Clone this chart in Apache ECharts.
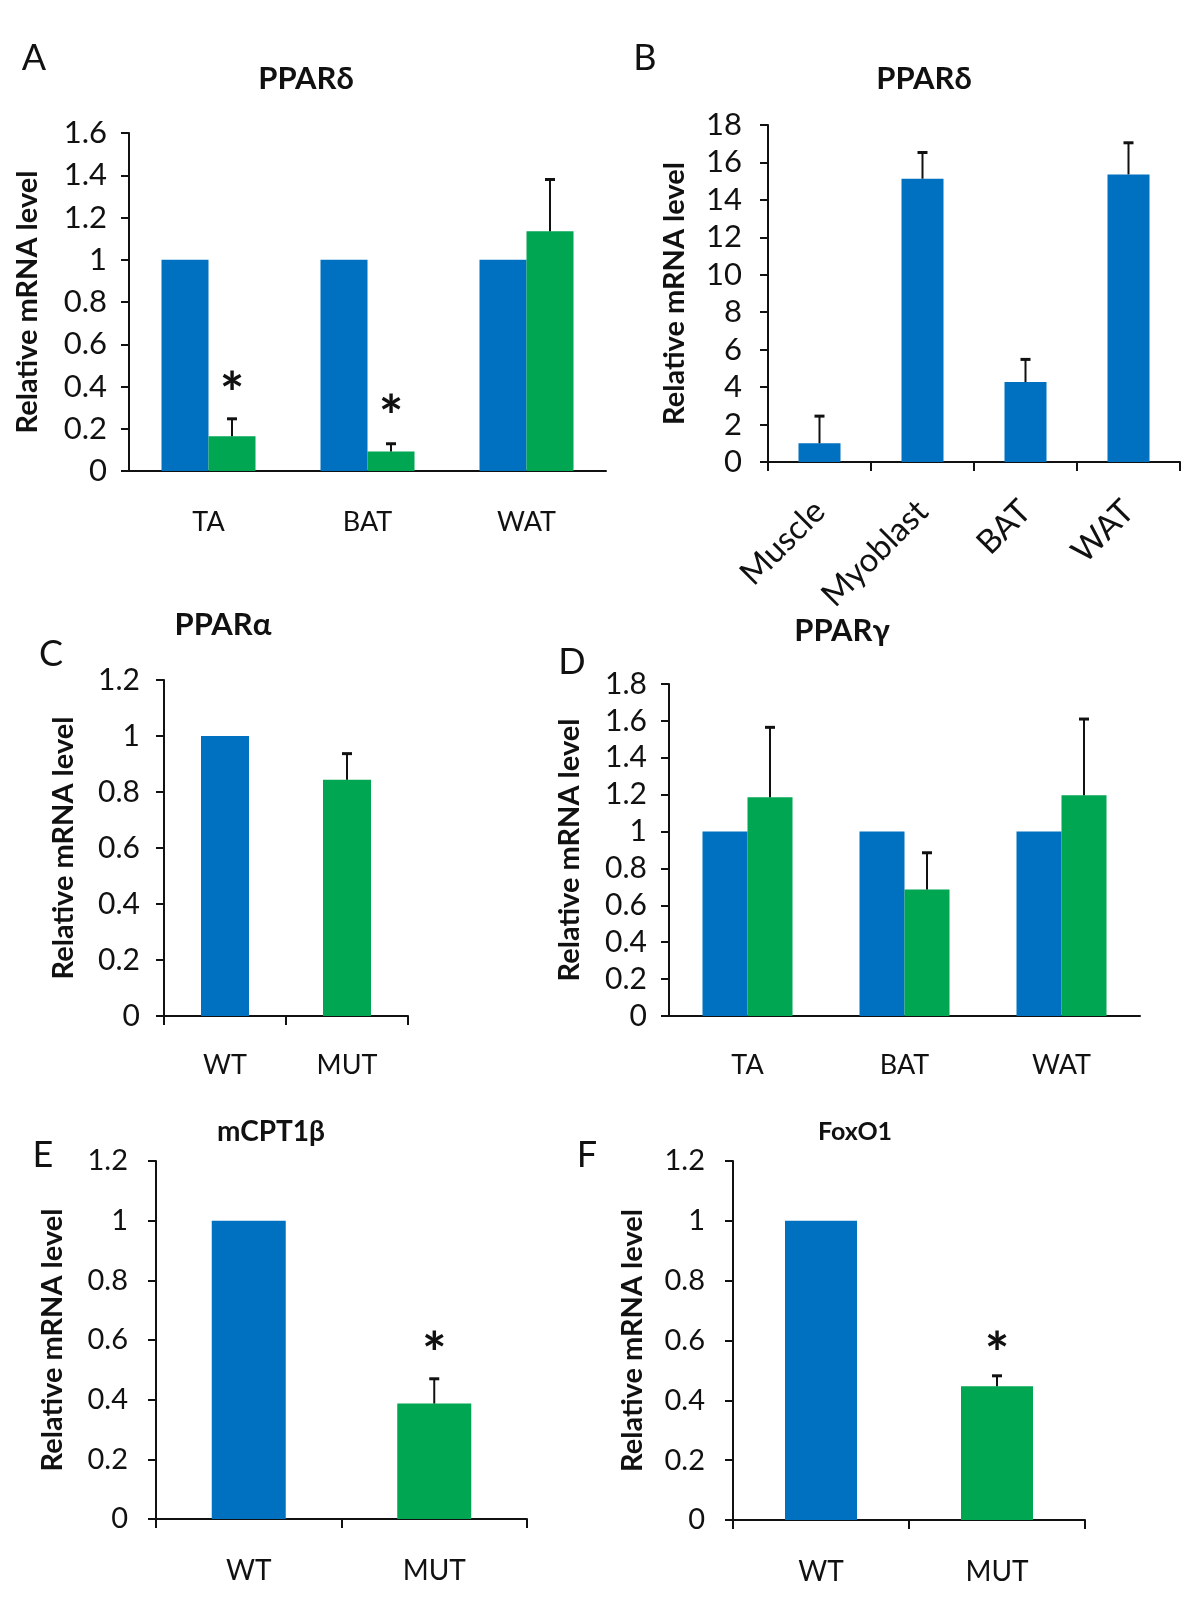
<!DOCTYPE html>
<html><head><meta charset="utf-8">
<script src="https://cdn.jsdelivr.net/npm/echarts@6/dist/echarts.min.js"></script>
<style>html,body{margin:0;padding:0;background:#fff}#c{width:1200px;height:1610px}</style>
</head><body><div id="c"></div>
<script>
// ---- Panel A: PPARδ (WT vs MUT by tissue)
const aCats = ['TA', 'BAT', 'WAT'];
const aWT = [1, 1, 1];
const aMUT = [0.165, 0.092, 1.135];
const aMUTsd = [0.082, 0.037, 0.245];
const aStar = [0.43, 0.32, null];
// ---- Panel B: PPARδ across tissues
const bCats = ['Muscle', 'Myoblast', 'BAT', 'WAT'];
const bVals = [1.0, 15.13, 4.27, 15.36];
const bSD = [1.45, 1.4, 1.21, 1.69];
// ---- Panel C: PPARα
const cCats = ['WT', 'MUT'];
const cVals = [1, 0.844];
const cSD = [0, 0.093];
// ---- Panel D: PPARγ
const dCats = ['TA', 'BAT', 'WAT'];
const dWT = [1, 1, 1];
const dMUT = [1.186, 0.686, 1.197];
const dMUTsd = [0.379, 0.199, 0.413];
// ---- Panel E: mCPT1β
const eCats = ['WT', 'MUT'];
const eVals = [1, 0.387];
const eSD = [0, 0.083];
const eStar = [null, 0.6];
// ---- Panel F: FoxO1
const fCats = ['WT', 'MUT'];
const fVals = [1, 0.447];
const fSD = [0, 0.035];
const fStar = [null, 0.6];
// ---- axis ranges
const yRanges = [
  {max: 1.6, interval: 0.2},
  {max: 18, interval: 2},
  {max: 1.2, interval: 0.2},
  {max: 1.8, interval: 0.2},
  {max: 1.2, interval: 0.2},
  {max: 1.2, interval: 0.2}
];
const titles = ['PPARδ', 'PPARδ', 'PPARα', 'PPARγ', 'mCPT1β', 'FoxO1'];
const letters = ['A', 'B', 'C', 'D', 'E', 'F'];
const yName = 'Relative mRNA level';

const BLUE = '#0070C0', GREEN = '#00A651', INK = '#111111', FONT = 'Lato';

const grids = [
  {left: 129, top: 133, width: 477, height: 338},
  {left: 768, top: 125, width: 412, height: 337},
  {left: 164, top: 680, width: 244, height: 336},
  {left: 669, top: 684, width: 471, height: 332},
  {left: 156, top: 1161, width: 371, height: 358},
  {left: 733, top: 1161, width: 352, height: 359}
];
const cats = [aCats, bCats, cCats, dCats, eCats, fCats];
const nameGaps = [87, 79, 86, 85, 89, 86];
const yLabelMargin = [22, 26, 24, 22, 28, 28];
const yFont = [31, 31, 30, 30, 29, 29];
const xTicks = [false, true, true, false, true, true];
const xMargin = [38, 44, 36, 36, 38, 38];
const xFont = [27, 33, 27, 27, 28, 28];

const xAxis = cats.map((c, i) => ({
  type: 'category', gridIndex: i, data: c,
  axisLine: {lineStyle: {color: INK, width: 2}},
  axisTick: {show: xTicks[i], length: 9, lineStyle: {color: INK, width: 2}},
  axisLabel: {color: INK, fontFamily: FONT, fontSize: xFont[i], margin: xMargin[i],
    rotate: i === 1 ? 45 : 0, interval: 0},
  splitLine: {show: false}
}));
const yAxis = yRanges.map((r, i) => ({
  type: 'value', gridIndex: i, min: 0, max: r.max, interval: r.interval,
  name: yName, nameLocation: 'middle', nameGap: nameGaps[i],
  nameTextStyle: {fontFamily: FONT, fontWeight: 'bold', fontSize: 29, color: INK},
  axisLine: {show: true, lineStyle: {color: INK, width: 2}},
  axisTick: {show: true, length: 8, lineStyle: {color: INK, width: 2}},
  axisLabel: {color: INK, fontFamily: FONT, fontSize: yFont[i], margin: yLabelMargin[i]},
  splitLine: {show: false}
}));

function errSeries(gi, means, sds, off) {
  return {
    type: 'custom', xAxisIndex: gi, yAxisIndex: gi, z: 5, silent: true,
    data: means.map((m, i) => [i, m, sds[i]]),
    renderItem: function (params, api) {
      const cat = api.value(0), m = api.value(1), sd = api.value(2);
      if (!sd) return null;
      const p0 = api.coord([cat, m]);
      const p1 = api.coord([cat, m + sd]);
      const x = p0[0] + off;
      return {type: 'group', children: [
        {type: 'line', shape: {x1: x, y1: p0[1], x2: x, y2: p1[1]}, style: {stroke: INK, lineWidth: 2}},
        {type: 'line', shape: {x1: x - 5, y1: p1[1], x2: x + 5, y2: p1[1]}, style: {stroke: INK, lineWidth: 3}}
      ]};
    }
  };
}
const STAR_SIZE = 58;
function starSeries(gi, stars, off) {
  return {
    type: 'custom', xAxisIndex: gi, yAxisIndex: gi, z: 6, silent: true,
    data: stars.map((s, i) => [i, s == null ? NaN : s]),
    renderItem: function (params, api) {
      const v = api.value(1);
      if (isNaN(v)) return null;
      const p = api.coord([api.value(0), v]);
      return {type: 'text', x: p[0] + off, y: p[1] + STAR_SIZE * 0.26,
        style: {text: '*', fontFamily: FONT, fontWeight: 'bold', fontSize: STAR_SIZE, fill: INK,
          align: 'center', verticalAlign: 'middle'}};
    }
  };
}
function pair(i, wt, mut, bw) {
  return [
    {type: 'bar', xAxisIndex: i, yAxisIndex: i, data: wt, barWidth: bw, barGap: '0%', itemStyle: {color: BLUE}},
    {type: 'bar', xAxisIndex: i, yAxisIndex: i, data: mut, barWidth: bw, barGap: '0%', itemStyle: {color: GREEN}}
  ];
}
function single(i, vals, bw, colors) {
  return {type: 'bar', xAxisIndex: i, yAxisIndex: i, barWidth: bw,
    data: vals.map((v, k) => ({value: v, itemStyle: {color: colors[k]}}))};
}

const series = [
  ...pair(0, aWT, aMUT, 47),
  errSeries(0, aMUT, aMUTsd, 23.5),
  starSeries(0, aStar, 23.5),
  single(1, bVals, 42, bVals.map(() => BLUE)),
  errSeries(1, bVals, bSD, 0),
  single(2, cVals, 48, [BLUE, GREEN]),
  errSeries(2, cVals, cSD, 0),
  ...pair(3, dWT, dMUT, 45),
  errSeries(3, dMUT, dMUTsd, 22.5),
  single(4, eVals, 74, [BLUE, GREEN]),
  errSeries(4, eVals, eSD, 0),
  starSeries(4, eStar, 0),
  single(5, fVals, 72, [BLUE, GREEN]),
  errSeries(5, fVals, fSD, 0),
  starSeries(5, fStar, 0)
];

const titlePos = [[306, 79], [924, 79], [223, 625], [842, 631], [271, 1132], [855, 1132]];
const titleSize = [31, 31, 31, 31, 28, 25];
const letterPos = [[34, 58], [645, 58], [51, 654], [572, 662], [43, 1155], [587, 1155]];
const graphic = [];
titles.forEach((t, i) => graphic.push({type: 'text', x: titlePos[i][0], y: titlePos[i][1],
  style: {text: t, fontFamily: FONT, fontWeight: 'bold', fontSize: titleSize[i], fill: INK,
    align: 'center', verticalAlign: 'middle'}}));
letters.forEach((t, i) => graphic.push({type: 'text', x: letterPos[i][0], y: letterPos[i][1],
  style: {text: t, fontFamily: FONT, fontSize: 36, fill: INK, align: 'center', verticalAlign: 'middle'}}));

const chart = echarts.init(document.getElementById('c'), null, {renderer: 'canvas'});
chart.setOption({
  animation: false,
  backgroundColor: '#fff',
  textStyle: {fontFamily: FONT},
  grid: grids,
  xAxis, yAxis, series, graphic
});
</script></body></html>
